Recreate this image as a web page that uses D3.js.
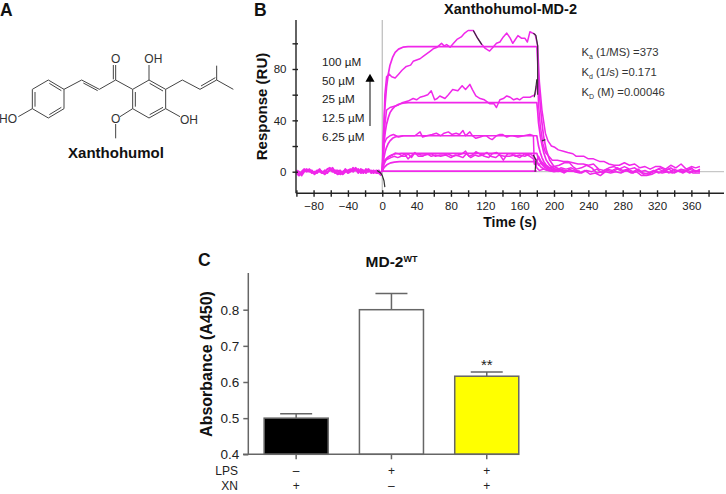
<!DOCTYPE html>
<meta charset="utf-8">
<style>
body { margin: 0; background: #fff; }
svg { display: block; }
text { font-family: "Liberation Sans", Arial, sans-serif; fill: #222; }
.bold { font-weight: bold; fill: #111; }
.domain, .tick line { stroke-linecap: butt; }
</style>
<svg width="726" height="494"></svg>
<script src="https://d3js.org/d3.v7.min.js"></script>
<script>

// panel A, atom positions on the drawing's own grid
var atoms = {
  a1: [97, 268], a2: [145, 240], a3: [192, 268], a4: [192, 326], a5: [145, 354], a6: [97, 326],
  c1: [245, 240], c2: [298, 268], c3: [347, 240], o1: [347, 195],
  b1: [398, 268], b2: [447, 240], b3: [497, 268], b4: [497, 326], b5: [447, 354], b6: [398, 326],
  oh1: [55, 350], oh2: [447, 195], oh3: [540, 350], ome: [360, 350], ome2: [347, 372], me: [347, 415],
  p1: [547, 240], p2: [600, 268], p3: [650, 240], p4: [650, 197], p5: [700, 268]
};
var bonds = [
  ["a1","a2"],["a2","a3"],["a3","a4"],["a4","a5"],["a5","a6"],["a6","a1"],
  ["a3","c1"],["c1","c2"],["c2","c3"],["c3","b1"],["c3","o1"],
  ["b1","b2"],["b2","b3"],["b3","b4"],["b4","b5"],["b5","b6"],["b6","b1"],
  ["a6","oh1"],["b2","oh2"],["b4","oh3"],["b6","ome"],["ome2","me"],
  ["b3","p1"],["p1","p2"],["p2","p3"],["p3","p4"],["p3","p5"]
];
// second stroke of each double bond
var doubleBonds = [
  [[105, 276], [105, 320]], [[148, 250], [184, 272]], [[184, 322], [148, 344]],
  [[250, 249], [293, 272]], [[340, 238], [340, 195]],
  [[406, 276], [406, 320]], [[449, 250], [489, 273]], [[489, 322], [449, 344]],
  [[603, 258], [646, 233]]
];
var atomLabels = [["HO", 24, 356], ["O", 347, 175], ["OH", 460, 175], ["O", 347, 355], ["OH", 567, 358]];

// panel B, sensorgram
var concLabels = ["100 µM", "50 µM", "25 µM", "12.5 µM", "6.25 µM"];
var kinetics = [["a", " (1/MS) =373"], ["d", " (1/s) =0.171"], ["D", " (M) =0.00046"]];

var baseTimes = [-100,-97,-94,-91,-88,-85,-82,-79,-76,-73,-70,-67,-64,-61,-58,-55,-52,-49,-46,-43,-40,-37,-34,-31,-28,-25,-22,-19,-16,-13,-10,-7,-4,-1];
var baseA = [0,-2,-1,1,0,2,0,-1,1,0,-1,0,2,3,1,-1,0,1,-2,0,1,2,1,3,0,1,-1,2,0,1,-1,1,0,-1];
var baseB = [-1,-3,0,2,1,1,-1,0,-1,1,0,-2,0,1,3,0,-2,-1,0,1,-1,0,3,1,2,-1,0,1,2,-1,0,0,1,-2];
var baseC = [1,0,-3,0,2,0,1,-2,0,2,-1,1,-1,2,0,1,1,-2,-1,2,0,1,0,2,-1,2,1,-1,1,0,1,-1,-1,-3];

var trace100 = [[0,0],[2,38],[3,60],[5,74],[8,76],[11,74],[15,73],[19,76],[23,79],[28,82],[33,83],[36,86],[40,87],[44,88],[48,90],[52,92],[56,94],[60,96],[64,97],[69,100],[72,98],[75,99],[79,97],[83,100],[87,103],[92,105],[96,108],[100,110],[106,110],[111,104],[116,99],[120,96],[125,94],[129,97],[133,100],[137,101],[141,105],[145,108],[149,104],[152,100],[155,103],[158,106],[162,104],[166,104],[169,101],[172,109],[178,107],[181,98],[183,70],[186,48],[190,30],[193,24],[197,20],[201,19],[205,17],[211,16],[216,15],[222,14],[226,12],[230,12],[235,12],[240,10],[246,10],[253,8],[258,8],[264,6],[270,5],[276,5],[282,7],[288,5],[294,6],[300,3],[306,4],[312,2],[318,4],[324,4],[330,2],[336,5],[342,3],[348,6],[354,2],[360,4],[365,3],[370,4]];
var trace50 = [[0,0],[1.5,20],[3,36],[5,48],[9,50],[14,51],[19,52],[24,54],[30,55],[36,57],[40,56],[44,58],[49,59],[53,60],[57,63],[61,56],[64,57],[67,59],[70,58],[73,57],[77,60],[82,64],[88,63],[93,67],[97,64],[102,68],[105,64],[109,59],[114,57],[119,56],[125,53],[130,53],[133,50],[137,56],[141,57],[145,59],[149,58],[153,56],[157,57],[160,56],[164,58],[168,58],[172,58],[178,60],[181,72],[182,52],[184,36],[187,22],[190,15],[194,12],[198,9],[204,9],[211,8],[216,8],[222,7],[228,6],[234,6],[240,5],[246,6],[252,2],[258,1],[264,3],[270,4],[276,2],[282,4],[288,2],[294,3],[300,0],[306,1],[312,-1],[318,1],[324,3],[330,1],[336,3],[342,0],[348,2],[354,1],[360,3],[365,0],[370,2]];
var trace25 = [[0,0],[1,12],[2.5,22],[5,26],[9,28],[13,29],[16,28],[19,27],[25,28],[32,28],[38,28],[44,31],[47,27],[52,28],[58,29],[63,30],[68,28],[72,30],[77,31],[81,29],[86,30],[90,29],[94,32],[97,28],[102,31],[105,28],[109,26],[114,27],[118,28],[121,28],[125,26],[128,25],[133,28],[137,29],[140,29],[145,27],[149,28],[152,28],[158,27],[165,28],[172,29],[176,28],[177,6],[179,5],[182,12],[185,8],[190,5],[195,3],[200,4],[206,5],[212,7],[218,7],[222,4],[226,2],[232,3],[238,5],[244,3],[250,-1],[256,0],[262,2],[268,1],[274,3],[280,1],[286,2],[292,0],[298,2],[304,-1],[310,-2],[316,0],[322,2],[328,0],[334,2],[340,-1],[346,1],[352,0],[358,2],[364,0],[370,1]];
var trace12 = [[0,0],[1,6],[3,9],[6,11],[9,12],[12,13],[15,14.5],[19,14],[24,12],[27,12],[30,14],[34,11],[37,14],[41,14],[45,13],[50,13],[57,14],[62,12],[67,13],[72,13],[76,14],[82,12],[88,13],[93,14],[97,16],[101,12],[105,13],[109,15.6],[113,14],[119,12],[124,11],[128,14],[133,15],[137,13],[141,9],[146,14],[150,14],[155,12],[160,13],[166,12],[172,14],[176,12],[180,9],[182,5],[185,7],[190,4],[196,2],[202,1],[208,3],[214,2],[220,3],[226,1],[232,-1],[238,1],[244,0],[250,2],[256,-1],[262,1],[268,0],[274,2],[280,0],[286,1],[292,-1],[298,1],[304,-2],[310,-1],[316,1],[322,-1],[328,1],[334,-1],[340,2],[346,0],[352,1],[358,-1],[364,1],[370,0]];
var trace6 = [[0,0],[2,7],[4,9],[7,10],[10,11],[14,12],[18,11],[22,12],[26,14],[30,10],[33,12],[38,15],[42,12],[47,12],[52,14],[57,12],[62,13],[68,12],[74,13],[80,11],[85,13],[90,12],[94,11],[98,14],[103,11],[108,13],[112,12],[117,13],[122,15],[126,12],[132,11],[136,13],[142,12],[148,12],[154,13],[160,11],[166,14],[172,12],[176,10],[180,3],[183,1],[188,2],[194,1],[200,0],[206,1],[212,-1],[218,2],[224,0],[230,-1],[236,1],[242,-2],[248,-1],[254,-3],[260,0],[266,-1],[272,0],[278,-1],[284,1],[290,-1],[296,0],[302,-3],[308,-3],[314,-2],[320,0],[326,-1],[332,0],[338,-1],[344,1],[350,-1],[356,1],[362,-1],[370,-1]];

var fit100 = [[0,0],[1,22],[2,38],[3.5,54],[5,66],[7,76],[9,83],[12,89],[15,93],[19,95.5],[24,97],[30,97.4],[60,97.4],[120,97.4],[180,97.4],[181,86],[182,70],[184,52],[186,38],[188,27],[191,17],[195,9],[200,4],[206,2],[215,0.7],[230,0.3]];
var fit50 = [[0,0],[1,12],[2,22],[3.5,31],[5,37],[7,42],[9,46],[12,49],[15,51],[19,52.5],[24,53.4],[30,53.8],[60,53.8],[120,53.8],[180,53.8],[181,47],[182,38],[184,28],[186,21],[188,15],[191,9],[195,5],[200,2.5],[206,1],[215,0.4],[230,0.2]];
var fit25 = [[0,0],[1,6],[2,11],[3.5,16],[5,19],[7,22],[9,24],[12,26],[15,27],[19,27.6],[24,28],[60,28],[120,28],[180,28],[181,24],[182,20],[184,15],[186,11],[188,8],[191,5],[195,3],[200,1.5],[206,0.6],[215,0.3]];
var fit12 = [[0,0],[1,3],[2,6],[3.5,8],[5,10],[7,11.5],[9,12.5],[12,13.4],[16,14],[22,14.3],[60,14.3],[120,14.3],[180,14.3],[181,12],[183,9],[185,6.5],[188,4],[191,2.6],[195,1.5],[200,0.7],[210,0.2]];
var fit6 = [[0,0],[1,2],[2,3],[3.5,4.2],[5,5.2],[7,6],[10,6.9],[14,7.5],[20,7.8],[60,7.8],[120,7.8],[180,7.8],[181,6.5],[183,5],[185,3.5],[188,2.2],[192,1.2],[198,0.5],[206,0.2]];
var fitZero = [[0,0.5],[60,0.5],[120,0.5],[180,0.5]];

// spots where the raw trace shows black
var blackParts = [
  [[-6,1],[-2,-1],[0,-3],[2,-7],[3,-12]],
  [[106,110],[111,104],[116,99]],
  [[176,108],[179,106],[181,98],[181,60]],
  [[177,58],[179,66],[180,72]],
  [[176,13],[179,9],[178,0]],
  [[186,24],[190,25]]
];

var xTicksB = [-100,-80,-60,-40,-20,0,20,40,60,80,100,120,140,160,180,200,220,240,260,280,300,320,340,360,380];
var xLabeledB = [-80,-40,0,40,80,120,160,200,240,280,320,360];
var yTicksB = [0,20,40,60,80,100];
var yLabeledB = [0,40,80];

// panel C, bars
var groups = ["none", "LPS", "LPS+XN"];
var absorbance = [0.5, 0.8, 0.616];
var absorbanceErr = [0.012, 0.045, 0.012];
var barFills = ["#000000", "#ffffff", "#ffff00"];
var rowNames = ["LPS", "XN"];
var lpsSigns = ["–", "+", "+"];
var xnSigns = ["+", "–", "+"];
var yTicksC = [0.4, 0.5, 0.6, 0.7, 0.8];

var svg = d3.select("svg");
var magenta = "#f028ea";

function letter(s, x, y) {
  svg.append("text").attr("class", "bold").attr("x", x).attr("y", y)
    .style("font-size", "17.5px").text(s);
}
letter("A", 0, 16);
letter("B", 254, 16);
letter("C", 198, 266);

// ---- A ----
var mx = d3.scaleLinear().domain([0, 750]).range([0, 250]),
    my = d3.scaleLinear().domain([0, 540]).range([0, 180]);
var mol = svg.append("g").attr("stroke", "#444").attr("stroke-width", 1);
mol.selectAll("line.bond").data(bonds).enter().append("line").attr("class", "bond")
  .attr("x1", function(d) { return mx(atoms[d[0]][0]); })
  .attr("y1", function(d) { return my(atoms[d[0]][1]); })
  .attr("x2", function(d) { return mx(atoms[d[1]][0]); })
  .attr("y2", function(d) { return my(atoms[d[1]][1]); });
mol.selectAll("line.dbl").data(doubleBonds).enter().append("line").attr("class", "dbl")
  .attr("x1", function(d) { return mx(d[0][0]); })
  .attr("y1", function(d) { return my(d[0][1]); })
  .attr("x2", function(d) { return mx(d[1][0]); })
  .attr("y2", function(d) { return my(d[1][1]); });
svg.selectAll("text.atom").data(atomLabels).enter().append("text").attr("class", "atom")
  .attr("x", function(d) { return mx(d[1]); })
  .attr("y", function(d) { return my(d[2]); })
  .attr("text-anchor", "middle").attr("dy", "0.36em")
  .style("font-size", "12px").style("fill", "#333")
  .text(function(d) { return d[0]; });
svg.append("text").attr("class", "bold").attr("x", 116).attr("y", 158)
  .attr("text-anchor", "middle").style("font-size", "15px").text("Xanthohumol");

// ---- B ----
var x = d3.scaleLinear().domain([-100, 398]).range([296.4, 724]),
    y = d3.scaleLinear().domain([0, 80]).range([171.7, 69]);
var yBottom = 193.3, yTop = 20;

svg.append("line").attr("x1", x(0)).attr("x2", x(0)).attr("y1", yTop).attr("y2", yBottom)
  .attr("stroke", "#bbb").attr("stroke-width", 1.2);
svg.append("line").attr("x1", x(-100)).attr("x2", x(398)).attr("y1", y(0)).attr("y2", y(0))
  .attr("stroke", "#bbb").attr("stroke-width", 1);

var line = d3.line().x(function(d) { return x(d[0]); }).y(function(d) { return y(d[1]); });
var plot = svg.append("g").attr("fill", "none").attr("stroke", magenta).attr("stroke-linejoin", "round");

[baseA, baseB, baseC].forEach(function(vals) {
  plot.append("path").attr("stroke-width", 2)
    .attr("d", line(vals.map(function(v, i) { return [baseTimes[i], v]; })));
});
[trace100, trace50, trace25, trace12, trace6].forEach(function(t) {
  plot.append("path").attr("stroke-width", 1.5).attr("d", line(t));
});
[fit100, fit50, fit25, fit12, fit6, fitZero].forEach(function(t) {
  plot.append("path").attr("stroke-width", 1.7).attr("d", line(t));
});
blackParts.forEach(function(t) {
  svg.append("path").attr("fill", "none").attr("stroke", "#333").attr("stroke-width", 1.2).attr("d", line(t));
});

function styleAxis(g, color, w, size) {
  g.selectAll(".domain").attr("stroke", color).attr("stroke-width", w);
  g.selectAll(".tick line").attr("stroke", color).attr("stroke-width", w);
  g.selectAll(".tick text").style("font-size", size + "px").style("fill", "#222");
}

var xAxisB = svg.append("g").attr("transform", "translate(0," + yBottom + ")")
  .call(d3.axisBottom(x).tickValues(xTicksB).tickSize(3.5).tickSizeOuter(0).tickPadding(5)
    .tickFormat(function(d) { return xLabeledB.indexOf(d) >= 0 ? d3.format("d")(d) : ""; }));
styleAxis(xAxisB, "#222", 1.4, 11.5);
xAxisB.selectAll(".tick line").attr("y1", -3);
xAxisB.select(".domain").attr("d", "M" + x(-100) + ",0H" + x(398));

var yAxisB = svg.append("g").attr("transform", "translate(296,0)")
  .call(d3.axisLeft(y).tickValues(yTicksB).tickSize(3.5).tickSizeOuter(0).tickPadding(6)
    .tickFormat(function(d) { return yLabeledB.indexOf(d) >= 0 ? d : ""; }));
styleAxis(yAxisB, "#222", 1.4, 11.5);
yAxisB.selectAll(".tick line").attr("x1", 2);
yAxisB.select(".domain").attr("d", "M0," + yTop + "V" + yBottom);

svg.append("text").attr("class", "bold").attr("x", 510.5).attr("y", 14)
  .attr("text-anchor", "middle").style("font-size", "14.5px").text("Xanthohumol-MD-2");
svg.append("text").attr("class", "bold").attr("x", 510).attr("y", 227)
  .attr("text-anchor", "middle").style("font-size", "14px").text("Time (s)");
svg.append("text").attr("class", "bold")
  .attr("transform", "translate(267,106.5) rotate(-90)")
  .attr("text-anchor", "middle").style("font-size", "15px").text("Response (RU)");

svg.selectAll("text.conc").data(concLabels).enter().append("text").attr("class", "conc")
  .attr("x", 322).attr("y", function(d, i) { return 61.7 + i * 18.7; }).attr("dy", "0.36em")
  .style("font-size", "11.7px").text(function(d) { return d; });
svg.append("line").attr("x1", 370).attr("x2", 370).attr("y1", 126).attr("y2", 80)
  .attr("stroke", "#222").attr("stroke-width", 1.1);
svg.append("path").attr("d", d3.symbol(d3.symbolTriangle, 36)())
  .attr("transform", "translate(370,79)").attr("fill", "#000");

var kin = svg.selectAll("text.kin").data(kinetics).enter().append("text").attr("class", "kin")
  .attr("x", 581.5).attr("y", function(d, i) { return 52 + i * 20; }).attr("dy", "0.36em")
  .style("font-size", "11.3px").style("fill", "#333");
kin.append("tspan").text("K");
kin.append("tspan").attr("dy", 3).style("font-size", "7px").text(function(d) { return d[0]; });
kin.append("tspan").attr("dy", -3).text(function(d) { return d[1]; });

// ---- C ----
var xC = d3.scaleBand().domain(groups).range([248.5, 534.4]).paddingInner(0.328).paddingOuter(0.164),
    yC = d3.scaleLinear().domain([0.4, 0.8]).range([454.3, 309.7]);
var grey = "#666";

svg.selectAll("line.err").data(groups).enter().append("line").attr("class", "err")
  .attr("x1", function(d) { return xC(d) + xC.bandwidth() / 2; })
  .attr("x2", function(d) { return xC(d) + xC.bandwidth() / 2; })
  .attr("y1", function(d, i) { return yC(absorbance[i]); })
  .attr("y2", function(d, i) { return yC(absorbance[i] + absorbanceErr[i]); })
  .attr("stroke", grey).attr("stroke-width", 1.5);
svg.selectAll("line.cap").data(groups).enter().append("line").attr("class", "cap")
  .attr("x1", function(d) { return xC(d) + xC.bandwidth() / 2 - 16; })
  .attr("x2", function(d) { return xC(d) + xC.bandwidth() / 2 + 16; })
  .attr("y1", function(d, i) { return yC(absorbance[i] + absorbanceErr[i]); })
  .attr("y2", function(d, i) { return yC(absorbance[i] + absorbanceErr[i]); })
  .attr("stroke", grey).attr("stroke-width", 1.5);
svg.selectAll("rect.bar").data(groups).enter().append("rect").attr("class", "bar")
  .attr("x", function(d) { return xC(d); })
  .attr("width", xC.bandwidth())
  .attr("y", function(d, i) { return yC(absorbance[i]); })
  .attr("height", function(d, i) { return yC(0.4) - yC(absorbance[i]); })
  .attr("fill", function(d, i) { return barFills[i]; })
  .attr("stroke", grey).attr("stroke-width", 1.5);

var yAxisC = svg.append("g").attr("transform", "translate(248.3,0)")
  .call(d3.axisLeft(yC).tickValues(yTicksC).tickSize(5).tickSizeOuter(0).tickPadding(4).tickFormat(d3.format(".1f")));
styleAxis(yAxisC, grey, 1.5, 13.5);
yAxisC.select(".domain").attr("d", "M0,273V454.3");

var xAxisC = svg.append("g").attr("transform", "translate(0,454.3)")
  .call(d3.axisBottom(xC).tickSize(5).tickSizeOuter(0).tickFormat(""));
styleAxis(xAxisC, grey, 1.5, 11);
xAxisC.select(".domain").attr("d", "M243,0H519");

svg.selectAll("text.row").data(rowNames).enter().append("text").attr("class", "row")
  .attr("x", 238).attr("y", function(d, i) { return 470.5 + i * 15.5; }).attr("dy", "0.36em")
  .attr("text-anchor", "end").style("font-size", "12px").text(function(d) { return d; });
[lpsSigns, xnSigns].forEach(function(signs, r) {
  svg.selectAll("text.sign" + r).data(groups).enter().append("text").attr("class", "sign" + r)
    .attr("x", function(d) { return xC(d) + xC.bandwidth() / 2; })
    .attr("y", 470.5 + r * 15.5).attr("dy", "0.36em")
    .attr("text-anchor", "middle").style("font-size", "12px")
    .text(function(d, i) { return signs[i]; });
});

svg.append("text").attr("x", xC("LPS+XN") + xC.bandwidth() / 2).attr("y", 370)
  .attr("text-anchor", "middle").style("font-size", "15px").text("**");

var titleC = svg.append("text").attr("class", "bold").attr("x", 391.5).attr("y", 267)
  .attr("text-anchor", "middle").style("font-size", "15.5px");
titleC.append("tspan").text("MD-2");
titleC.append("tspan").attr("dy", -5).style("font-size", "9px").text("WT");

svg.append("text").attr("class", "bold")
  .attr("transform", "translate(212,364) rotate(-90)")
  .attr("text-anchor", "middle").style("font-size", "16px").text("Absorbance (A450)");

</script>
